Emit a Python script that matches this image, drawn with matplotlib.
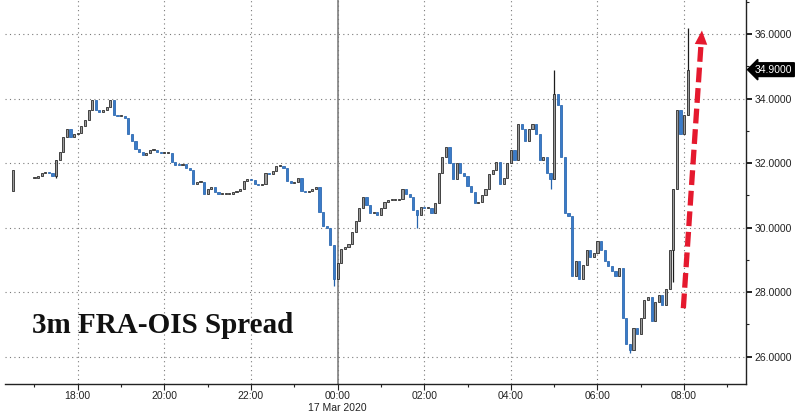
import matplotlib
matplotlib.use('Agg')
import matplotlib.pyplot as plt
import matplotlib.dates as mdates
import matplotlib.transforms as mtransforms
import numpy as np
import pandas as pd

# 5-minute bars starting 16 Mar 2020 16:30 (None = no trade)
start = '2020-03-16 16:30'
first_open = 31.15
closes = [
    31.8, None, None, None, None, None,
    # 17:00
    31.55, 31.6, 31.7, 31.72, 31.7, 31.6, 32.1, 32.35, 32.8, 33.05, 32.8, 32.9,
    # 18:00
    32.95, 33.15, 33.35, 33.65, 33.95, 33.65, 33.6, 33.65, 33.75, 33.95, 33.5, 33.45,
    # 19:00
    33.45, 33.4, 32.9, 32.7, 32.45, 32.35, 32.25, 32.3, 32.4, 32.4, 32.35, 32.3,
    # 20:00
    32.3, 32.3, 32.05, 31.95, 31.93, 31.97, 31.85, 31.8, 31.35, 31.4, 31.4, 31.05,
    # 21:00
    31.2, 31.25, 31.1, 31.05, 31.05, 31.05, 31.05, 31.1, 31.15, 31.2, 31.45, 31.5,
    # 22:00
    31.48, 31.35, 31.33, 31.35, 31.7, 31.65, 31.75, 31.9, 31.9, 31.85, 31.45, 31.38,
    # 23:00
    31.4, 31.55, 31.15, 31.1, 31.15, 31.2, 31.25, 30.5, 30.05, 30.0, 29.45, 28.4,
    # 00:00
    28.9, 29.35, 29.4, 29.5, 29.85, 30.2, 30.6, 30.95, 30.7, 30.45, 30.5, 30.4,
    # 01:00
    30.6, 30.8, 30.85, 30.85, 30.85, 30.9, 31.2, 31.05, 30.95, 30.55, 30.4, 30.65,
    # 02:00
    30.6, 30.6, 30.45, 30.75, 31.7, 32.2, 32.5, 32.0, 31.5, 32.0, 31.7, 31.6,
    # 03:00
    31.3, 31.1, 30.75, 30.8, 31.0, 31.2, 31.65, 31.8, 32.05, 31.35, 31.55, 32.0,
    # 04:00
    32.4, 32.1, 33.2, 33.05, 32.7, 33.05, 33.2, 32.9, 32.1, 32.2, 31.7, 31.5,
    # 05:00
    34.15, 33.8, 32.2, 30.45, 30.35, 28.5, 28.95, 28.4, 28.85, 29.3, 29.1, 29.2,
    # 06:00
    29.6, 29.3, 28.95, 28.8, 28.65, 28.5, 28.75, 27.2, 26.4, 26.2, 26.9, 26.7,
    # 07:00
    27.2, 27.75, 27.85, 27.1, 27.7, 27.9, 27.6, 28.1, 29.3, 31.2, 33.65, 32.9,
    # 08:00
    33.5, 34.9,
]
wick_lows = {
    '2020-03-16 17:30': 31.55,
    '2020-03-16 23:55': 28.2,
    '2020-03-17 01:50': 30.0,
    '2020-03-17 04:55': 31.2,
    '2020-03-17 07:45': 28.3,
    '2020-03-17 06:45': 26.1,
}
wick_highs = {
    '2020-03-17 05:00': 34.9,
    '2020-03-17 08:05': 36.2,
}
last_price = 34.9
yticks = [26, 28, 30, 32, 34, 36]
arrow_start = ('2020-03-17 07:59', 27.5)
arrow_tip = ('2020-03-17 08:25', 36.2)
title = '3m FRA-OIS Spread'
date_label = '17 Mar 2020'

times = pd.date_range(start, periods=len(closes), freq='5min')
xs = mdates.date2num(times.to_pydatetime())
c = np.array(closes, dtype=float)

fig = plt.figure(figsize=(8, 4.16), dpi=100)
ax = fig.add_axes([5 / 800, 32 / 416, 741 / 800, 384 / 416])

bar_w = 0.6 * 5 / 1440
up_face, up_edge = '#9b9b9b', '#1c1c1c'
dn_face, dn_edge = '#3a7bc8', '#2563ad'

prev = first_open
for i, (x, close) in enumerate(zip(xs, c)):
    if np.isnan(close):
        prev = np.nan
        continue
    o = close if np.isnan(prev) else prev
    if i == 0:
        o = first_open
    key = times[i].strftime('%Y-%m-%d %H:%M')
    lo, hi = min(o, close), max(o, close)
    up = close >= o
    fc, ec = (up_face, up_edge) if up else (dn_face, dn_edge)
    wl = wick_lows.get(key, lo)
    wh = wick_highs.get(key, hi)
    if wl < lo or wh > hi:
        ax.vlines(x, wl, wh, color=ec, lw=0.9, zorder=3)
    h = max(hi - lo, 0.035)
    ax.bar(x, h, width=bar_w, bottom=lo, color=fc, edgecolor=ec,
           linewidth=0.55, zorder=4)
    prev = close

# axes limits and ticks
x0 = mdates.date2num(pd.Timestamp('2020-03-17 00:00'))
hour = 1 / 24
ax.set_xlim(x0 - 7.68 * hour, x0 + 9.43 * hour)
ax.set_ylim(25.15, 37.06)

ax.xaxis.set_major_locator(mdates.HourLocator(byhour=range(0, 24, 2)))
ax.xaxis.set_minor_locator(mdates.HourLocator())
ax.xaxis.set_major_formatter(mdates.DateFormatter('%H:%M'))
ax.yaxis.tick_right()
ax.set_yticks(yticks)
ax.set_yticks([v + 1 for v in yticks[:-1]] + [37], minor=True)
ax.yaxis.set_major_formatter(plt.FuncFormatter(lambda v, p: f'{v:.4f}'))

for lab in ax.get_xticklabels() + ax.get_yticklabels():
    lab.set_fontfamily(['Liberation Sans', 'DejaVu Sans'])
    lab.set_fontsize(7.5)
    lab.set_color('#222222')
ax.tick_params(axis='x', which='major', direction='out', length=4, width=0.8,
               color='#222222', pad=1)
ax.tick_params(axis='x', which='minor', direction='out', length=2.5, width=0.8,
               color='#222222')
ax.tick_params(axis='y', which='major', direction='out', length=4, width=1.4,
               color='#222222', pad=2)
ax.tick_params(axis='y', which='minor', direction='out', length=2.5, width=0.8,
               color='#222222')

for s in ['top', 'left']:
    ax.spines[s].set_visible(False)
for s in ['right', 'bottom']:
    ax.spines[s].set_color('#222222')
    ax.spines[s].set_linewidth(1.0)

ax.grid(which='major', linestyle=(0, (1, 3)), color='#7a7a7a', lw=0.8, zorder=0)
ax.axvline(x0, color='#8a8a8a', lw=1.3, zorder=1)

# date under midnight
ax.annotate(date_label, xy=(x0, 0), xycoords=('data', 'axes fraction'),
            xytext=(0, -17), textcoords='offset points', ha='center', va='center',
            fontsize=7.5, family=['Liberation Sans', 'DejaVu Sans'], color='#222222')

# title text
ax.text(0.0364, 0.133, title, transform=ax.transAxes, ha='left', va='baseline',
        fontsize=21, fontweight='bold', family=['Liberation Serif', 'DejaVu Serif'],
        color='#111111', zorder=6)

# last price marker
trans = mtransforms.blended_transform_factory(ax.transAxes, ax.transData)
ax.text(1.012, last_price, f'{last_price:.4f}', transform=trans, ha='left',
        va='center', fontsize=7.5, color='white',
        family=['Liberation Sans', 'DejaVu Sans'],
        bbox=dict(boxstyle='larrow,pad=0.18', fc='black', ec='black'),
        clip_on=False, zorder=7)

# red dashed arrow
red = '#e5192e'
sx = mdates.date2num(pd.Timestamp(arrow_start[0]))
tx = mdates.date2num(pd.Timestamp(arrow_tip[0]))
sy, ty = arrow_start[1], arrow_tip[1]
fr = 0.94
ax.plot([sx, sx + (tx - sx) * fr], [sy, sy + (ty - sy) * fr], color=red,
        lw=3.8, linestyle=(0, (2.8, 1.1)), solid_capstyle='butt', zorder=8)
ax.annotate('', xy=(tx, ty), xytext=(sx + (tx - sx) * 0.9, sy + (ty - sy) * 0.9),
            arrowprops=dict(arrowstyle='-|>,head_length=1.0,head_width=0.45',
                            color=red, lw=0, mutation_scale=10),
            zorder=8)

fig.savefig('out.png', dpi=100)
